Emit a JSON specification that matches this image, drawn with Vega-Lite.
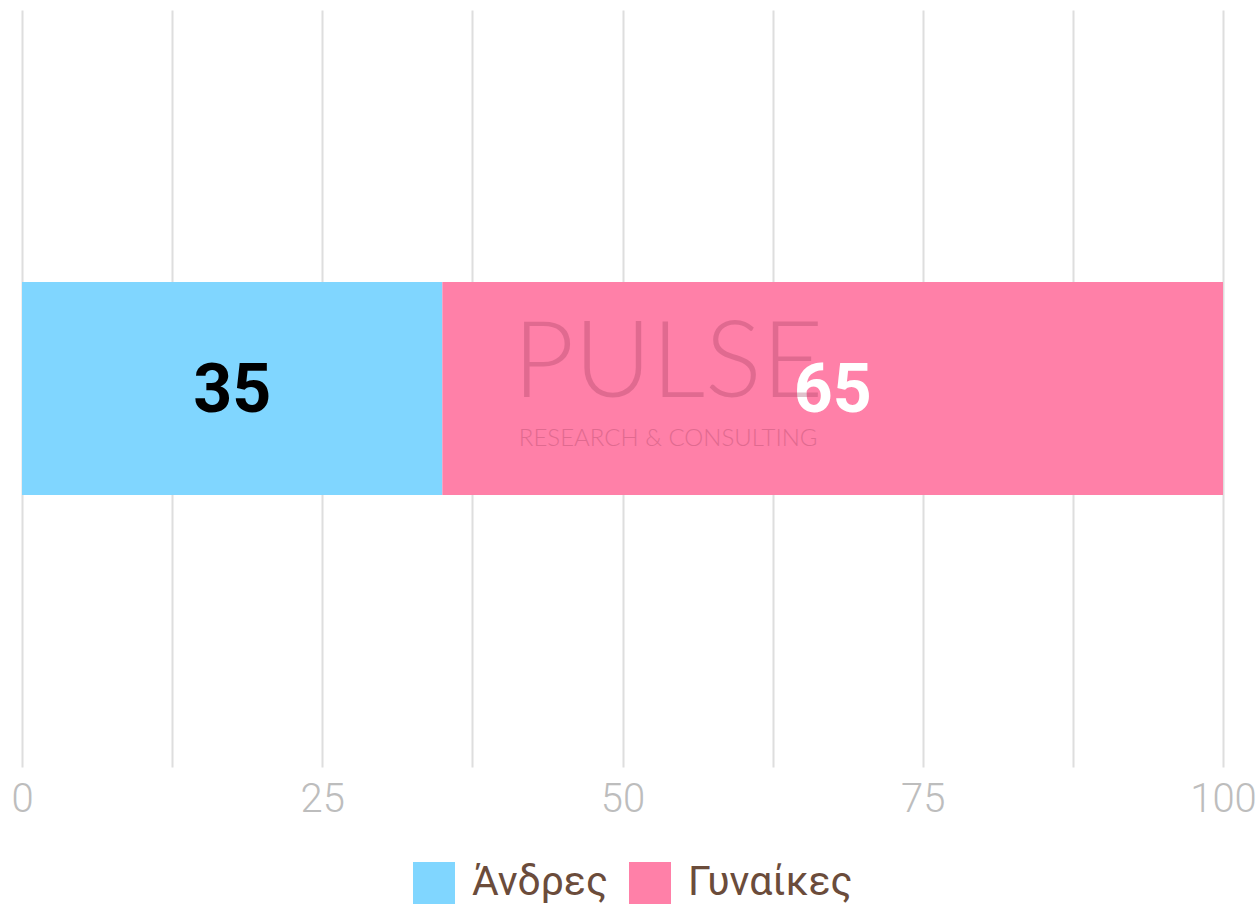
{
  "$schema": "https://vega.github.io/schema/vega-lite/v6.json",
  "width": 1201,
  "height": 757,
  "autosize": {"type": "none"},
  "padding": {"left": 22, "top": 10, "right": 33, "bottom": 142},
  "background": "white",
  "config": {
    "view": {"stroke": null},
    "font": "Roboto"
  },
  "data": {
    "values": [
      {"row": "Σύνολο", "gender": "Άνδρες", "value": 35},
      {"row": "Σύνολο", "gender": "Γυναίκες", "value": 65}
    ]
  },
  "encoding": {
    "y": {
      "field": "row",
      "type": "nominal",
      "axis": null,
      "scale": {"paddingInner": 0.561, "paddingOuter": 0.561}
    }
  },
  "layer": [
    {
      "mark": {"type": "bar"},
      "encoding": {
        "x": {
          "field": "value",
          "type": "quantitative",
          "stack": "zero",
          "scale": {"domain": [0, 100], "nice": false},
          "axis": {
            "title": null,
            "values": [0, 12.5, 25, 37.5, 50, 62.5, 75, 87.5, 100],
            "labelExpr": "datum.value % 25 === 0 ? datum.label : ''",
            "domain": false,
            "ticks": false,
            "labelPadding": 12,
            "labelFont": "Roboto",
            "labelFontWeight": 300,
            "labelFontSize": 40,
            "labelColor": "#bdbdbd",
            "labelFlush": false,
            "labelOverlap": false,
            "gridColor": "#dedede",
            "gridWidth": 2
          }
        },
        "color": {
          "field": "gender",
          "type": "nominal",
          "sort": ["Άνδρες", "Γυναίκες"],
          "scale": {"domain": ["Άνδρες", "Γυναίκες"], "range": ["#80d6ff", "#ff80a8"]},
          "legend": {
            "title": null,
            "orient": "none",
            "legendX": 391,
            "legendY": 852,
            "direction": "horizontal",
            "symbolType": "square",
            "symbolSize": 1764,
            "symbolStrokeWidth": 0,
            "symbolOpacity": 1,
            "labelFont": "Roboto",
            "labelFontSize": 41,
            "labelLimit": 400,
            "labelColor": "#6b4c3b",
            "labelOffset": 17,
            "columnPadding": 20
          }
        }
      }
    },
    {
      "transform": [
        {"stack": "value", "groupby": ["row"], "sort": [{"field": "gender", "order": "ascending"}], "as": ["v0", "v1"]},
        {"calculate": "(datum.v0 + datum.v1) / 2", "as": "mid"}
      ],
      "mark": {"type": "text", "font": "Roboto", "fontWeight": "bold", "fontSize": 68, "baseline": "middle", "align": "center", "dy": 3},
      "encoding": {
        "x": {"field": "mid", "type": "quantitative"},
        "text": {"field": "value", "type": "quantitative"},
        "color": {"condition": {"test": "datum.gender === 'Γυναίκες'", "value": "#ffffff"}, "value": "#000000"}
      }
    },
    {
      "data": {"values": [{"row": "Σύνολο", "mark": "PULSE", "sub": "RESEARCH & CONSULTING"}]},
      "layer": [
        {
          "mark": {"type": "text", "font": "Lato", "fontWeight": 300, "fontSize": 106, "color": "#9b3a5a", "opacity": 0.3, "align": "center", "baseline": "middle", "dy": -24},
          "encoding": {
            "x": {"datum": 53.8},
            "text": {"field": "mark"}
          }
        },
        {
          "mark": {"type": "text", "font": "Lato", "fontWeight": 300, "fontSize": 24, "color": "#9b3a5a", "opacity": 0.3, "align": "center", "baseline": "middle", "dy": 50},
          "encoding": {
            "x": {"datum": 53.8},
            "text": {"field": "sub"}
          }
        }
      ]
    }
  ]
}
